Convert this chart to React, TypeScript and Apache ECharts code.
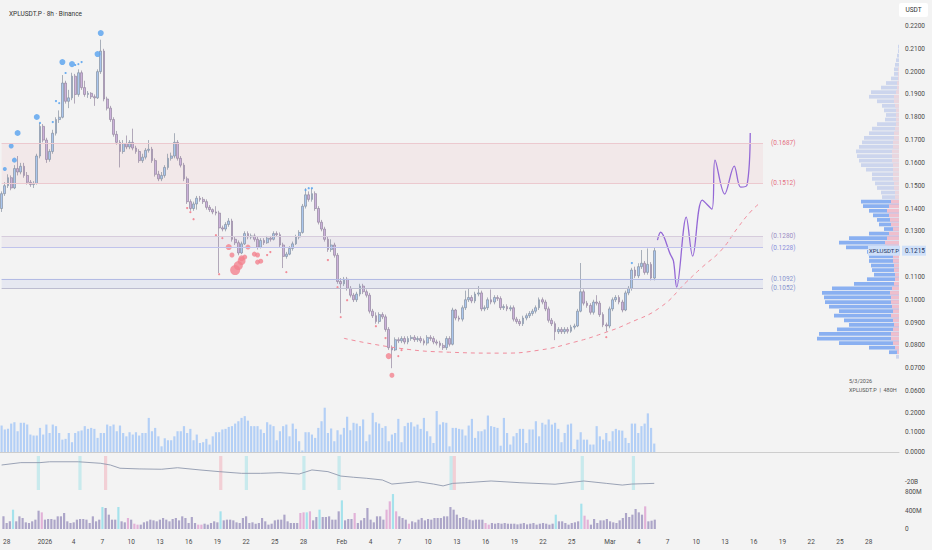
import React, { useEffect, useRef } from "react";
import * as echarts from "echarts";

// ---------- time slots (8h bars) ----------
const START_UTC = Date.UTC(2025, 11, 27, 16);
const SLOT_COUNT = 281;
const SLOT_MS = 8 * 3600000;
const MONTHS = ["Jan", "Feb", "Mar", "Apr", "May", "Jun", "Jul", "Aug", "Sep", "Oct", "Nov", "Dec"];
const LABEL_DAYS = [1, 4, 7, 10, 13, 16, 19, 22, 25, 28];

// ---------- price candles [open, close, low, high] in 1e-4 USDT ----------
const candles = [
  [1400,1465,1385,1475],[1465,1500,1455,1515],[1500,1535,1490,1550],[1535,1490,1480,1545],[1490,1575,1485,1590],
  [1575,1560,1545,1630],[1560,1585,1550,1600],[1585,1545,1535,1600],[1545,1515,1505,1560],[1515,1505,1495,1525],
  [1505,1510,1490,1520],[1510,1630,1505,1640],[1630,1760,1620,1775],[1760,1700,1690,1770],[1700,1615,1600,1710],
  [1615,1650,1605,1660],[1650,1730,1640,1745],[1730,1790,1720,1800],[1790,1800,1775,1830],[1800,1950,1795,1985],
  [1950,1870,1860,1960],[1870,1885,1840,1920],[1885,1980,1875,1995],[1980,1900,1860,1990],[1900,1995,1890,2010],
  [1995,1930,1920,2005],[1930,1900,1890,1960],[1900,1905,1885,1915],[1905,1890,1880,1910],[1890,1885,1850,1900],
  [1885,2000,1880,2010],[2000,2090,1990,2140],[2090,1880,1870,2100],[1880,1840,1830,1890],[1840,1790,1780,1850],
  [1790,1725,1715,1800],[1725,1690,1680,1740],[1690,1650,1580,1700],[1650,1685,1640,1700],[1685,1670,1660,1720],
  [1670,1690,1660,1700],[1690,1665,1655,1750],[1665,1650,1640,1675],[1650,1610,1600,1660],[1610,1625,1600,1640],
  [1625,1655,1615,1665],[1655,1660,1645,1700],[1660,1610,1600,1670],[1610,1550,1540,1620],[1550,1530,1520,1565],
  [1530,1545,1520,1560],[1545,1580,1535,1590],[1580,1620,1570,1640],[1620,1630,1610,1645],[1630,1690,1620,1730],
  [1690,1620,1610,1700],[1620,1590,1580,1630],[1590,1530,1520,1600],[1530,1430,1420,1540],[1430,1400,1390,1440],
  [1400,1420,1390,1430],[1420,1445,1395,1455],[1445,1440,1430,1455],[1440,1430,1420,1450],[1430,1405,1395,1440],
  [1405,1395,1385,1415],[1395,1385,1375,1400],[1385,1380,1370,1410],[1380,1315,1117,1390],[1315,1310,1300,1325],
  [1310,1330,1300,1340],[1330,1345,1320,1358],[1345,1265,1255,1355],[1265,1250,1240,1275],[1250,1205,1195,1260],
  [1205,1245,1200,1255],[1245,1290,1240,1300],[1290,1275,1265,1300],[1275,1280,1265,1290],[1280,1265,1255,1290],
  [1265,1230,1220,1275],[1230,1260,1225,1270],[1260,1250,1240,1270],[1250,1270,1245,1280],[1270,1265,1255,1280],
  [1265,1290,1260,1300],[1290,1285,1275,1300],[1285,1240,1230,1295],[1240,1190,1139,1250],[1190,1200,1180,1210],
  [1200,1225,1195,1235],[1225,1245,1215,1255],[1245,1275,1240,1285],[1275,1295,1265,1305],[1295,1410,1290,1420],
  [1410,1460,1400,1489],[1460,1440,1430,1475],[1440,1465,1430,1489],[1465,1400,1390,1475],[1400,1340,1330,1410],
  [1340,1310,1300,1350],[1310,1265,1255,1320],[1265,1220,1210,1275],[1220,1240,1210,1265],[1240,1195,1185,1250],
  [1195,1080,1070,1205],[1080,1070,941,1095],[1070,1090,1060,1100],[1090,1050,1040,1100],[1050,1020,1010,1060],
  [1020,1000,990,1030],[1000,1025,990,1035],[1025,1060,1015,1070],[1060,1035,1025,1070],[1035,1020,1010,1045],
  [1020,950,940,1030],[950,930,920,960],[930,905,895,945],[905,935,895,945],[935,925,915,945],
  [925,870,860,935],[870,790,780,880],[790,780,700,800],[780,825,775,835],[825,820,810,835],
  [820,830,810,840],[830,815,805,840],[815,830,805,840],[830,835,820,845],[835,825,815,845],
  [825,830,815,840],[830,820,810,840],[820,810,800,830],[810,835,800,845],[835,830,820,845],
  [830,815,805,840],[815,810,800,825],[810,800,790,820],[800,790,780,810],[790,830,780,840],
  [830,805,795,840],[805,955,800,965],[955,920,910,960],[920,915,905,930],[915,965,905,975],
  [965,1000,955,1040],[1000,1010,990,1051],[1010,995,985,1020],[995,1025,985,1035],[1025,1030,1015,1060],
  [1030,960,950,1040],[960,965,950,975],[965,1000,955,1010],[1000,990,980,1045],[990,1010,980,1020],
  [1010,1005,995,1020],[1005,965,955,1015],[965,970,955,980],[970,960,950,980],[960,965,950,975],
  [965,915,905,975],[915,905,895,925],[905,895,885,915],[895,920,885,930],[920,930,910,940],
  [930,940,920,950],[940,950,930,960],[950,965,940,975],[965,1000,955,1010],[1000,990,980,1010],
  [990,960,950,1000],[960,910,900,970],[910,895,885,920],[895,860,823,905],[860,870,850,880],
  [870,860,850,880],[860,870,850,880],[870,862,852,880],[862,880,855,890],[880,885,870,895],
  [885,950,880,960],[950,1035,945,1161],[1035,985,975,1045],[985,975,965,995],[975,945,935,985],
  [945,990,935,1000],[990,985,975,1020],[985,935,925,995],[935,890,880,945],[890,885,860,900],
  [885,960,875,970],[960,1000,950,1010],[1000,1010,990,1020],[1010,990,980,1020],[990,955,945,1000],
  [955,1030,950,1040],[1030,1050,1020,1060],[1050,1130,1040,1140],[1130,1105,1095,1145],[1105,1145,1095,1160],
  [1145,1160,1135,1218],[1160,1120,1110,1170],[1120,1155,1110,1225],[1155,1095,1085,1165],[1095,1215,1085,1230],
];
const LAST_PRICE = 0.1215;

// ---------- signal dots [slot, price(1e-4), size] ----------
const blueDotsBig = [[1,1573,4],[3,1674,5],[4,1612,5],[5,1731,6],[11,1801,6],[19,2042,6],[22,2033,6],[30,2077,6],[31,2169,6]];
const blueDotsSmall = [[12,1775],[16,1779],[17,1871],[18,1862],[20,1994],[23,2029],[24,2033],[25,2042],[95,1481],[96,1489],[97,1489],[197,1161]];
const pinkDotsBig = [[71,1231,6],[72,1196,5],[73,1130,10],[74,1150,9],[75,1170,8],[75,1182,6],[76,1187,5],[77,1231,5],[79,1200,5],[80,1165,5],[80,1196,5],[81,1169,5],[121,753,6],[122,669,5]];
const pinkDotsSmall = [[58,1402],[59,1384],[60,1353],[67,1283],[68,1112],[69,1270],[83,1196],[84,1209],[89,1121],[102,1174],[105,1055],[106,924],[108,998],[117,884],[120,832],[124,753],[125,779],[189,836]];

// ---------- projection path and rounding-bottom arc [slot, price(1e-4)] ----------
const projection = [[205,1261],[206,1296],[209,1200],[210,1170],[211,1055],[214,1362],[216,1191],[219,1437],[222,1397],[223,1612],[226,1463],[229,1586],[231,1494],[233,1503],[234,1731]];
const arcCurve = [[107,831],[124,788],[140,770],[156,766],[168,779],[179,814],[188,853],[196,897],[206,968],[214,1077],[219,1143],[225,1218],[230,1314],[234,1384],[237,1424]];

// ---------- zones [low, high] ----------
const zoneRed = [0.1512, 0.1687];
const zonePurple = [0.1228, 0.128];
const zoneBlue = [0.1052, 0.1092];
const ZONE_END_UTC = Date.UTC(2026, 2, 17, 0);

// ---------- volume profile ----------
const PROFILE_START = 0.075;
const PROFILE_STEP = 0.002;
const VALUE_AREA = [0.076, 0.144];
const profileTotal = [3,10,30,60,82,80,62,50,55,65,60,70,74,75,77,67,45,32,25,27,28,30,30,32,53,60,50,30,15,20,22,26,30,36,38,17,18,22,24,27,27,33,38,40,42,43,40,37,35,30,27,22,14,13,15,17,22,30,28,18,13,8,5,5,4,3,2,1,1];
const profileSell = [0,2,4,6,8,8,6,5,6,8,6,7,8,8,9,7,5,4,4,5,5,6,6,8,12,14,12,10,6,8,9,10,12,10,8,4,4,5,5,6,6,6,6,7,7,7,6,6,5,5,4,3,3,3,3,4,5,5,3,2,2,1,1,1,0,0,0,0,0];

// ---------- volume pane (values in 1e-3) ----------
const volume = [
  135,115,118,145,152,106,149,149,140,89,84,84,123,89,140,97,140,132,97,63,67,97,50,97,106,110,
  132,118,123,118,72,97,97,140,132,140,106,135,97,80,101,89,101,84,97,97,174,106,123,80,29,70,
  60,60,80,106,106,132,97,118,60,89,46,50,67,38,80,101,101,115,118,128,132,145,157,174,183,160,
  132,132,132,115,97,152,140,132,60,106,132,140,80,145,118,55,8,101,101,89,72,123,157,226,97,120,
  55,111,89,123,180,111,149,145,132,166,55,89,200,152,145,123,132,55,89,97,169,50,132,149,152,130,
  140,118,174,106,80,46,209,140,152,149,29,123,123,118,115,
  84,135,169,72,106,106,115,186,132,128,123,32,174,97,38,80,97,118,118,46,
  115,115,157,80,149,140,166,140,149,118,50,97,140,145,15,63,101,63,63,38,38,
  132,80,63,97,55,106,118,111,109,72,46,145,145,97,132,145,197,123,43,
];

// ---------- delta line pane (B) ----------
const deltaLine = [[0,-10.3],[6,-8.9],[12,-8.9],[15,-8.4],[24,-8.4],[31,-9.3],[34,-10.3],[37,-12.2],[43,-12.6],[50,-12.8],[55,-11.9],[62,-13.2],[68,-14.2],[75,-15.2],[81,-15.2],[87,-14.8],[93,-15.6],[97,-13.2],[102,-14.2],[106,-16.8],[110,-17.5],[114,-18.1],[119,-19.1],[122,-21.5],[130,-20.1],[135,-21.5],[138,-22.6],[141,-21.1],[145,-20.7],[153,-19.7],[162,-20.7],[173,-21.6],[182,-19.7],[189,-21.1],[194,-22.1],[197,-21.5],[204,-21.1]];
const deltaCyan = [11, 24, 76, 94, 105, 140, 181, 197];
const deltaPink = [32, 68, 141];

// ---------- bottom flow pane (M) ----------
const flow = [
  274,130,166,418,166,274,238,144,130,166,202,396,360,202,216,216,202,274,274,346,
  166,130,144,202,216,216,202,130,274,166,202,475,454,310,202,202,475,166,144,238,
  202,115,94,94,144,166,202,187,166,202,238,202,166,216,238,187,274,238,130,259,
  130,94,94,115,94,130,166,144,382,187,202,202,187,144,130,238,274,130,144,115,
  130,238,166,94,115,187,202,202,310,166,130,130,130,346,360,360,382,187,259,418,
  259,259,274,202,202,382,619,187,216,216,346,130,187,238,454,202,144,274,274,202,
  418,598,756,382,274,238,202,115,166,144,202,238,187,216,202,238,238,238,274,274,
  475,418,310,238,259,238,202,187,202,202,202,130,94,130,115,130,115,130,115,115,
  115,100,115,130,100,115,130,94,115,130,115,94,115,310,166,166,130,94,130,144,
  166,547,288,202,94,216,130,187,187,216,166,144,130,187,238,346,259,310,432,360,
  310,490,166,180,202,
];
const flowPink = [12,39,41,42,61,62,93,94,96,110,120,121,123,127,151,152,182,183,201];
const flowCyan = [3,31,36,68,95,99,106,122,173,181];

const FONT = "Roboto, 'DejaVu Sans', sans-serif";
const AXIS_TEXT = "#4a4a4a";

function slotTime(k: number) {
  return START_UTC + k * SLOT_MS;
}
function slotOf(t: number) {
  return Math.round((t - START_UTC) / SLOT_MS);
}
function showDateLabel(t: number) {
  const d = new Date(t);
  if (d.getUTCHours() !== 0) return false;
  const day = d.getUTCDate();
  if (LABEL_DAYS.indexOf(day) < 0) return false;
  const dim = new Date(Date.UTC(d.getUTCFullYear(), d.getUTCMonth() + 1, 0)).getUTCDate();
  if (day === 28 && dim < 30) return false;
  return true;
}
function dateLabel(t: number) {
  const d = new Date(t);
  const day = d.getUTCDate();
  if (day === 1) return d.getUTCMonth() === 0 ? String(d.getUTCFullYear()) : MONTHS[d.getUTCMonth()];
  return String(day);
}

export default function App() {
  const ref = useRef<HTMLDivElement>(null);

  useEffect(() => {
    document.body.style.margin = "0";
    if (!ref.current) return;
    const chart = echarts.init(ref.current, undefined, { renderer: "svg" });

    const categories = Array.from({ length: SLOT_COUNT }, (_, k) => String(slotTime(k)));
    const zoneEnd = slotOf(ZONE_END_UTC);
    const P = (v: number) => v / 10000;

    const catAxis = (gridIndex: number, extra: any = {}) => ({
      type: "category",
      gridIndex,
      data: categories,
      boundaryGap: true,
      axisLine: { show: false },
      axisTick: { show: false },
      axisLabel: { show: false },
      splitLine: { show: false },
      ...extra,
    });
    const rightAxis = (gridIndex: number, extra: any = {}) => ({
      type: "value",
      gridIndex,
      position: "right",
      axisLine: { show: false },
      axisTick: { show: false },
      splitLine: { show: false },
      axisLabel: { fontSize: 6.5, color: AXIS_TEXT, margin: 6, fontFamily: FONT },
      ...extra,
    });

    const zoneArea = (z: number[], color: string) => [
      { xAxis: 0, yAxis: z[0], itemStyle: { color } },
      { xAxis: zoneEnd, yAxis: z[1] },
    ];
    const zoneLine = (v: number, lineColor: string, labelColor: string) => [
      {
        xAxis: 0,
        yAxis: v,
        lineStyle: { color: lineColor, width: 1, type: "solid" },
        label: {
          show: true,
          position: "end",
          distance: 8,
          formatter: "(" + v.toFixed(4) + ")",
          color: labelColor,
          fontSize: 6.5,
          fontFamily: FONT,
        },
      },
      { xAxis: zoneEnd, yAxis: v },
    ];

    const profileData = profileTotal.map((w, k) => [PROFILE_START + k * PROFILE_STEP, w]);
    const sellData = profileSell.map((w, k) => [PROFILE_START + k * PROFILE_STEP, w]);
    const profileRender = (kind: string) => (params: any, api: any) => {
      const p = api.value(0);
      const w = api.value(1);
      if (!w) return null;
      const a = api.coord([w, p]);
      const b = api.coord([0, p]);
      const h = Math.max(1, Math.abs(api.size([0, PROFILE_STEP])[1]) * 0.82);
      const inVA = p >= VALUE_AREA[0] && p <= VALUE_AREA[1];
      const fill =
        kind === "buy" ? (inVA ? "#8ab0f1" : "#ccd5ed") : inVA ? "#efbfcd" : "#ead6de";
      return {
        type: "rect",
        shape: { x: a[0], y: a[1] - h / 2, width: b[0] - a[0], height: h },
        style: { fill },
      };
    };

    const option: any = {
      animation: false,
      backgroundColor: "#f3f3f3",
      textStyle: { fontFamily: FONT },
      title: {
        text: "XPLUSDT.P · 8h · Binance",
        left: 4,
        top: 5,
        textStyle: { fontSize: 6.5, fontWeight: "normal", color: "#333", fontFamily: FONT },
      },
      grid: [
        { left: 0, top: 26, width: 899, height: 365 },
        { left: 814, top: 26, width: 85, height: 365 },
        { left: 0, top: 403, width: 899, height: 49 },
        { left: 0, top: 456, width: 899, height: 34 },
        { left: 0, top: 492, width: 899, height: 37 },
      ],
      xAxis: [
        catAxis(0),
        { type: "value", gridIndex: 1, min: 0, max: 85, inverse: true, show: false },
        catAxis(2, { axisLine: { show: true, lineStyle: { color: "#cdcdcd", width: 1 } } }),
        catAxis(3),
        catAxis(4, {
          axisLabel: {
            show: true,
            interval: (_i: number, v: string) => showDateLabel(Number(v)),
            formatter: (v: string) => dateLabel(Number(v)),
            fontSize: 6.5,
            color: AXIS_TEXT,
            margin: 9,
            fontFamily: FONT,
          },
        }),
      ],
      yAxis: [
        rightAxis(0, {
          min: 0.06,
          max: 0.22,
          interval: 0.01,
          axisLabel: {
            fontSize: 6.5,
            color: AXIS_TEXT,
            margin: 6,
            fontFamily: FONT,
            // the last-price tag covers the nearest tick label
            formatter: (v: number) => (Math.abs(v - LAST_PRICE) < 0.004 ? "" : v.toFixed(4)),
          },
        }),
        { type: "value", gridIndex: 1, min: 0.06, max: 0.22, show: false },
        rightAxis(2, {
          min: 0,
          max: 0.25,
          interval: 0.1,
          axisLabel: { fontSize: 6.5, color: AXIS_TEXT, margin: 6, fontFamily: FONT, showMaxLabel: false, formatter: (v: number) => v.toFixed(4) },
        }),
        rightAxis(3, {
          min: -25,
          max: -5,
          interval: 5,
          axisLabel: { fontSize: 6.5, color: AXIS_TEXT, margin: 6, fontFamily: FONT, formatter: (v: number) => (v === -20 ? "-20B" : "") },
        }),
        rightAxis(4, {
          min: 0,
          max: 800,
          interval: 400,
          axisLabel: { fontSize: 6.5, color: AXIS_TEXT, margin: 6, fontFamily: FONT, formatter: (v: number) => (v === 0 ? "0" : v + "M") },
        }),
      ],
      series: [
        {
          type: "candlestick",
          xAxisIndex: 0,
          yAxisIndex: 0,
          barWidth: "72%",
          data: candles.map(([o, c, l, h]) => [P(o), P(c), P(l), P(h)]),
          itemStyle: {
            color: "#aac6ee",
            color0: "#cbb1da",
            borderColor: "#8690a0",
            borderColor0: "#93879f",
            borderWidth: 0.7,
          },
          markArea: {
            silent: true,
            data: [
              zoneArea(zoneRed, "rgba(242, 90, 110, 0.065)"),
              zoneArea(zonePurple, "rgba(150, 110, 190, 0.07)"),
              zoneArea(zoneBlue, "rgba(90, 120, 225, 0.085)"),
            ],
          },
          markLine: {
            silent: true,
            symbol: ["none", "none"],
            data: [
              zoneLine(zoneRed[1], "#ecc9cf", "#e56f82"),
              zoneLine(zoneRed[0], "#ecc9cf", "#e56f82"),
              zoneLine(zonePurple[1], "#d6ccdc", "#9a8bc4"),
              zoneLine(zonePurple[0], "#c0c3ec", "#8a8edc"),
              zoneLine(zoneBlue[1], "#b3bbe4", "#8893cf"),
              zoneLine(zoneBlue[0], "#bdbdd0", "#8893cf"),
            ],
          },
        },
        {
          type: "line",
          xAxisIndex: 0,
          yAxisIndex: 0,
          data: projection.map(([i, p]) => [i, P(p)]),
          smooth: 0.35,
          showSymbol: false,
          lineStyle: { color: "#9468d6", width: 1.3 },
          z: 4,
        },
        {
          type: "line",
          xAxisIndex: 0,
          yAxisIndex: 0,
          data: arcCurve.map(([i, p]) => [i, P(p)]),
          smooth: true,
          showSymbol: false,
          lineStyle: { color: "#f08c9c", width: 1, type: [4, 4] },
          z: 3,
        },
        {
          type: "scatter",
          xAxisIndex: 0,
          yAxisIndex: 0,
          data: blueDotsBig.map(([i, p, s]) => [i, P(p), s]),
          symbolSize: (v: number[]) => v[2],
          itemStyle: { color: "#5fa6ee", opacity: 0.85 },
        },
        {
          type: "scatter",
          xAxisIndex: 0,
          yAxisIndex: 0,
          data: blueDotsSmall.map(([i, p]) => [i, P(p)]),
          symbolSize: 2.2,
          itemStyle: { color: "#5fa6ee", opacity: 0.9 },
        },
        {
          type: "scatter",
          xAxisIndex: 0,
          yAxisIndex: 0,
          data: pinkDotsBig.map(([i, p, s]) => [i, P(p), s]),
          symbolSize: (v: number[]) => v[2],
          itemStyle: { color: "#f2828f", opacity: 0.8 },
        },
        {
          type: "scatter",
          xAxisIndex: 0,
          yAxisIndex: 0,
          data: pinkDotsSmall.map(([i, p]) => [i, P(p)]),
          symbolSize: 2.2,
          itemStyle: { color: "#f2828f", opacity: 0.9 },
        },
        {
          type: "custom",
          xAxisIndex: 1,
          yAxisIndex: 1,
          data: profileData,
          encode: { x: 1, y: 0 },
          renderItem: profileRender("buy"),
          silent: true,
        },
        {
          type: "custom",
          xAxisIndex: 1,
          yAxisIndex: 1,
          data: sellData,
          encode: { x: 1, y: 0 },
          renderItem: profileRender("sell"),
          silent: true,
          z: 3,
        },
        {
          type: "bar",
          xAxisIndex: 2,
          yAxisIndex: 2,
          data: volume.map((v) => v / 1000),
          barWidth: "68%",
          itemStyle: { color: "#b3cff6" },
        },
        {
          type: "line",
          xAxisIndex: 3,
          yAxisIndex: 3,
          data: deltaLine,
          showSymbol: false,
          lineStyle: { color: "#8e98ae", width: 0.9 },
          markArea: {
            silent: true,
            data: [
              ...deltaCyan.map((i) => [{ xAxis: i, itemStyle: { color: "rgba(110, 215, 225, 0.32)" } }, { xAxis: i + 1 }]),
              ...deltaPink.map((i) => [{ xAxis: i, itemStyle: { color: "rgba(240, 130, 150, 0.32)" } }, { xAxis: i + 1 }]),
            ],
          },
        },
        {
          type: "bar",
          xAxisIndex: 4,
          yAxisIndex: 4,
          barWidth: "68%",
          data: flow.map((v, i) => ({
            value: v,
            itemStyle: {
              color: flowCyan.indexOf(i) >= 0 ? "#a5e2ec" : flowPink.indexOf(i) >= 0 ? "#e2b2d8" : "#aca5c8",
            },
          })),
        },
      ],
    };

    chart.setOption(option);

    const yTag = chart.convertToPixel({ yAxisIndex: 0 }, LAST_PRICE) as number;
    const txt = (x: number, y: number, text: string, extra: any = {}) => ({
      type: "text",
      x,
      y,
      z: 100,
      style: { text, fontSize: 6.5, fill: "#555", fontFamily: FONT, verticalAlign: "middle", ...extra },
    });
    chart.setOption({
      graphic: [
        { type: "rect", shape: { x: 899, y: 3, width: 29, height: 14, r: 2 }, style: { fill: "#ffffff" }, z: 99 },
        txt(913.5, 10, "USDT", { align: "center", fill: "#333" }),
        { type: "rect", shape: { x: 868, y: yTag - 5, width: 32, height: 10 }, style: { fill: "#cfe0f9" }, z: 99 },
        txt(884, yTag, "XPLUSDT.P", { align: "center", fill: "#1d3561", fontSize: 6 }),
        { type: "rect", shape: { x: 902, y: yTag - 5, width: 24, height: 10 }, style: { fill: "#cfe0f9" }, z: 99 },
        txt(905, yTag, LAST_PRICE.toFixed(4), { fill: "#1d3561", fontSize: 6.5 }),
        txt(849, 381, "5/3/2026", { fontSize: 5.5 }),
        txt(849, 390, "XPLUSDT.P  |  480H", { fontSize: 5.5 }),
      ],
    });

    return () => chart.dispose();
  }, []);

  return <div ref={ref} style={{ width: 932, height: 550 }} />;
}
